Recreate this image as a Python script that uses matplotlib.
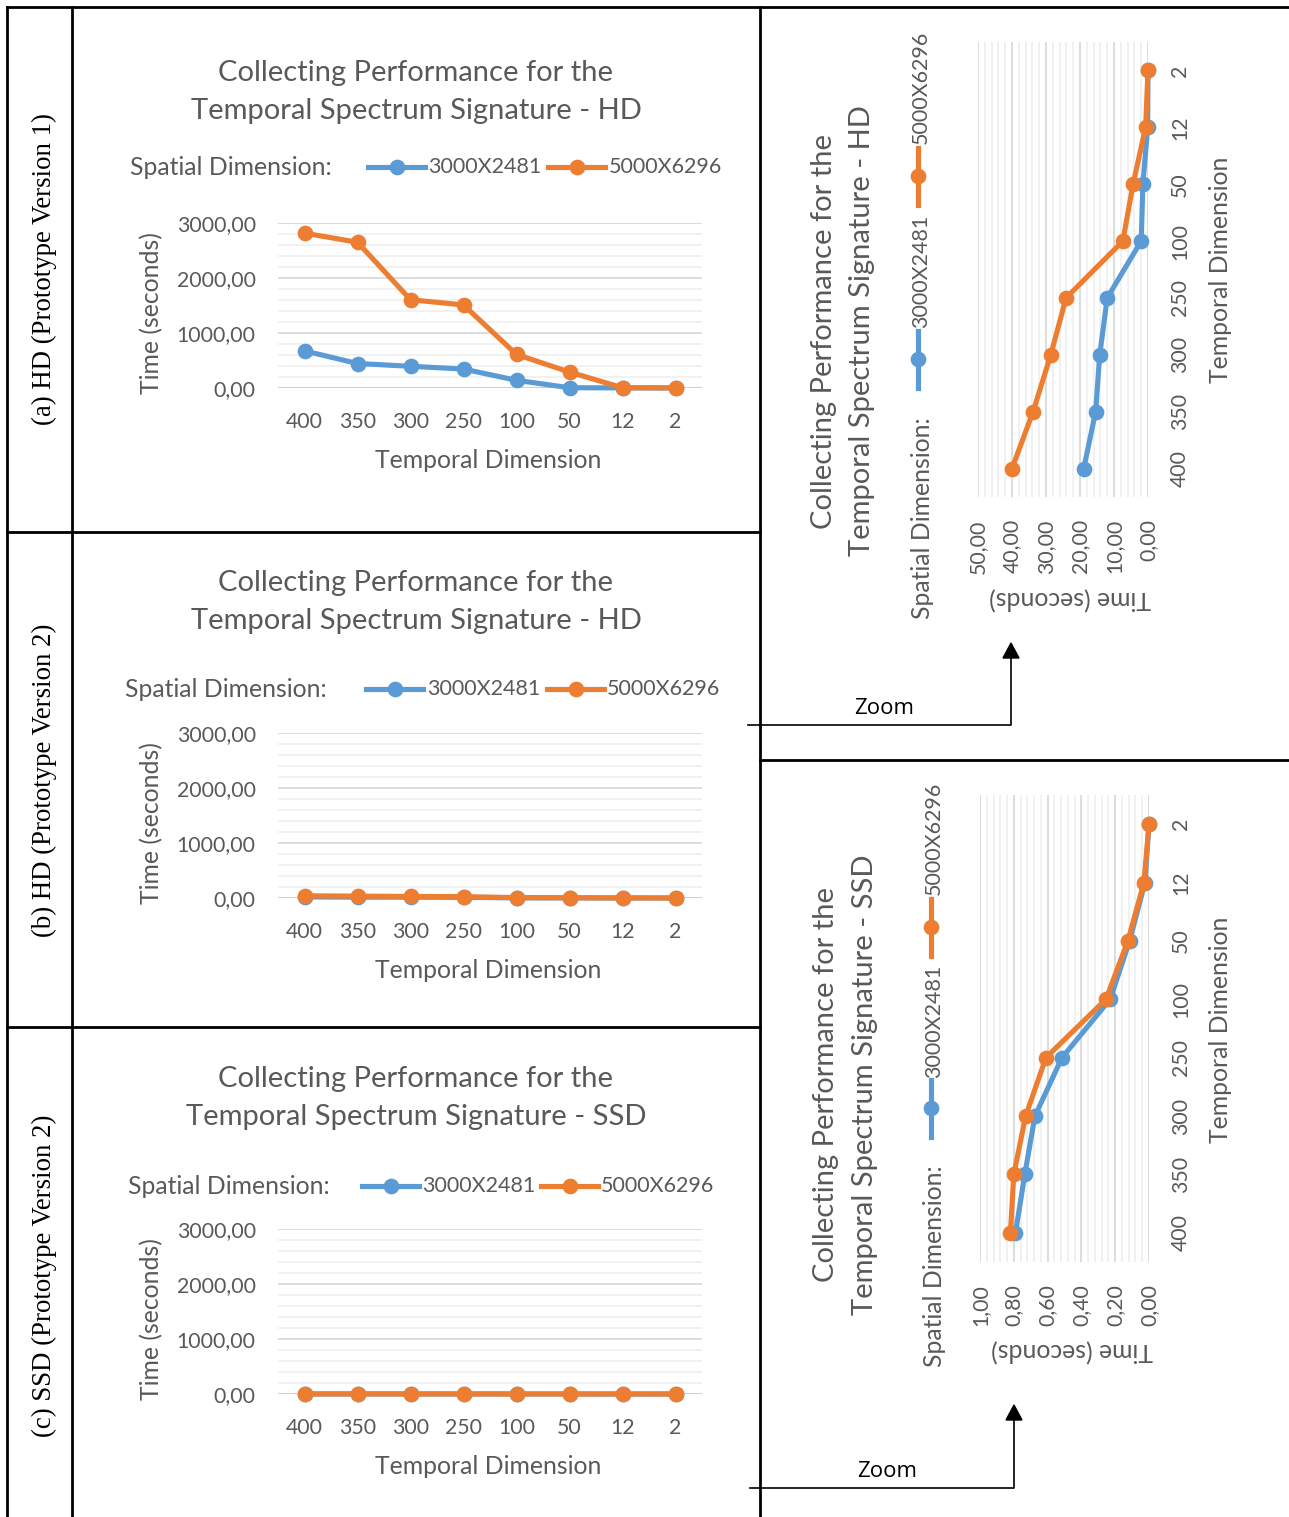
import matplotlib
matplotlib.use("Agg")
import matplotlib.pyplot as plt
from matplotlib.lines import Line2D
from matplotlib.patches import Polygon
from matplotlib.ticker import MultipleLocator, FixedLocator

# ---------------------------------------------------------------- data
temporal = ["400", "350", "300", "250", "100", "50", "12", "2"]
series_names = ["3000X2481", "5000X6296"]

# (a) HD, prototype version 1 (seconds)
hd_v1_small = [675, 445, 395, 345, 140, 5, 2, 0]
hd_v1_large = [2815, 2650, 1605, 1510, 610, 290, 5, 2]

# (b) HD, prototype version 2 (seconds)
hd_v2_small = [18.9, 15.4, 14.2, 12.0, 2.0, 1.5, 0.1, 0.0]
hd_v2_large = [40.0, 33.8, 28.6, 24.1, 7.4, 4.4, 0.7, 0.0]

# (c) SSD, prototype version 2 (seconds)
ssd_v2_small = [0.79, 0.735, 0.675, 0.515, 0.23, 0.115, 0.024, 0.0]
ssd_v2_large = [0.82, 0.80, 0.73, 0.61, 0.255, 0.125, 0.03, 0.0]

row_labels = ["(a) HD (Prototype Version 1)",
              "(b) HD (Prototype Version 2)",
              "(c) SSD (Prototype Version 2)"]

# ---------------------------------------------------------------- style
W, H = 1289, 1517
BLUE = "#5B9BD5"
ORANGE = "#ED7D31"
GRAY = "#595959"
SANS = ["Lato", "DejaVu Sans"]
SERIF = ["Liberation Serif", "DejaVu Serif"]
LW = 3.7
MS = 10.3
FS_TITLE = 21
FS_LABEL = 17.8
FS_TICK = 15.3
FS_NAME = 15.5

plt.rcParams["font.family"] = SANS

fig = plt.figure(figsize=(W / 100, H / 100), dpi=100)
fig.patch.set_facecolor("white")

# overlay in pixel coordinates for the table frame and free text
ov = fig.add_axes([0, 0, 1, 1], zorder=0)
ov.set_xlim(0, W)
ov.set_ylim(H, 0)
ov.axis("off")


def frame(x0, y0, x1, y1, lw=2.0):
    ov.add_line(Line2D([x0, x1], [y0, y1], color="black", lw=lw,
                       solid_capstyle="projecting"))


frame(7, 7, W, 7)
frame(7, 7, 7, H)
frame(72, 7, 72, H)
frame(760, 7, 760, H)
frame(7, 532, 760, 532)
frame(7, 1027, 760, 1027)
frame(760, 760, W, 760)


def zoom_arrow(x0, y, x1, ytip):
    ov.add_line(Line2D([x0, x1, x1], [y, y, ytip + 14], color="black", lw=1.2))
    ov.add_patch(Polygon([[x1 - 8, ytip + 15], [x1 + 8, ytip + 15], [x1, ytip]],
                         closed=True, color="black"))
    ov.text((x0 + x1) / 2 + 5, y - 6, "Zoom", fontsize=16, color="black",
            ha="center", va="bottom", family=["Open Sans", "DejaVu Sans"])


zoom_arrow(748, 725, 1011, 643)
zoom_arrow(750, 1488, 1014, 1405)

# row labels
for lab, yc in zip(row_labels, [269, 780, 1276]):
    ov.text(44, yc, lab, rotation=90, ha="center", va="center",
            fontsize=19.3, family=SERIF, color="black")


def px_axes(left, top, right, bottom):
    return fig.add_axes([left / W, 1 - bottom / H, (right - left) / W,
                         (bottom - top) / H], zorder=1)


def style_grid(ax, axis):
    ax.grid(True, which="major", axis=axis, color="#d9d9d9", lw=1.3)
    ax.grid(True, which="minor", axis=axis, color="#eeeeee", lw=1.1)
    ax.set_axisbelow(True)
    ax.patch.set_alpha(0)
    for s in ax.spines.values():
        s.set_visible(False)


def fmt(v, nd=2):
    return f"{v:.{nd}f}".replace(".", ",")


def left_chart(top, bottom, small, large, title2, ty, leg):
    ax = px_axes(278, top, 702, bottom)
    x = list(range(len(temporal)))
    ax.plot(x, small, color=BLUE, lw=LW, marker="o", ms=MS, zorder=3,
            clip_on=False)
    ax.plot(x, large, color=ORANGE, lw=LW, marker="o", ms=MS, zorder=4,
            clip_on=False)
    ax.set_xlim(-0.5, len(temporal) - 0.5)
    ax.set_ylim(0, 3000)
    ax.yaxis.set_minor_locator(MultipleLocator(200))
    ax.yaxis.set_major_locator(FixedLocator([0, 1000, 2000, 3000]))
    ax.set_yticklabels([fmt(v) for v in [0, 1000, 2000, 3000]])
    ax.set_xticks(x)
    ax.set_xticklabels(temporal)
    ax.tick_params(axis="both", which="both", length=0, labelsize=FS_TICK,
                   labelcolor=GRAY)
    ax.tick_params(axis="x", pad=17)
    ax.tick_params(axis="y", pad=16)
    style_grid(ax, "y")
    ax.axhline(0, color="#d0d0d0", lw=1.5, zorder=1)

    ov.text(416, ty, "Collecting Performance for the", ha="center",
            va="center", fontsize=FS_TITLE, color=GRAY)
    ov.text(416, ty + 38, title2, ha="center", va="center",
            fontsize=FS_TITLE, color=GRAY)
    ov.text(152, (top + bottom) / 2 + 8, "Time (seconds)", rotation=90,
            ha="center", va="center", fontsize=FS_LABEL, color=GRAY)
    ov.text(488, bottom + 72, "Temporal Dimension", ha="center", va="center",
            fontsize=FS_LABEL, color=GRAY)

    ly, lx, b0, t0, o0, t1 = leg
    ov.text(lx, ly, "Spatial Dimension:", ha="left", va="center",
            fontsize=FS_LABEL, color=GRAY)
    for (xa, xt), col, name in zip([(b0, t0), (o0, t1)], [BLUE, ORANGE],
                                   series_names):
        ov.add_line(Line2D([xa, xa + 57], [ly, ly], color=col, lw=LW))
        ov.add_line(Line2D([xa + 28.5], [ly], color=col, marker="o", ms=MS))
        ov.text(xt, ly, name, ha="left", va="center", fontsize=FS_NAME,
                color=GRAY)


left_chart(223, 388, hd_v1_small, hd_v1_large,
           "Temporal Spectrum Signature - HD", 73,
           (167, 130, 368, 428, 548, 609))
left_chart(733, 898, hd_v2_small, hd_v2_large,
           "Temporal Spectrum Signature - HD", 583,
           (689, 125, 366, 427, 547, 607))
left_chart(1229, 1394, ssd_v2_small, ssd_v2_large,
           "Temporal Spectrum Signature - SSD", 1079,
           (1186, 128, 362, 422, 541, 601))


def right_chart(left, top, right, bottom, small, large, vmax, major, minor,
                title2, tx, tyc, legx, spy, handles, time_pos, tdim_y):
    ax = px_axes(left, top, right, bottom)
    y = list(range(len(temporal)))
    ax.plot(small, y, color=BLUE, lw=LW, marker="o", ms=MS, zorder=3,
            clip_on=False)
    ax.plot(large, y, color=ORANGE, lw=LW, marker="o", ms=MS, zorder=4,
            clip_on=False)
    ax.set_xlim(vmax, 0)
    ax.set_ylim(-0.5, len(temporal) - 0.5)
    ticks = [i * major for i in range(int(round(vmax / major)) + 1)]
    ax.xaxis.set_major_locator(FixedLocator(ticks))
    ax.xaxis.set_minor_locator(MultipleLocator(minor))
    ax.set_xticklabels([fmt(v) for v in ticks], rotation=90, va="top",
                       ha="center")
    ax.set_yticks(y)
    ax.set_yticklabels(temporal, rotation=90, va="center", ha="left")
    ax.yaxis.tick_right()
    ax.tick_params(axis="both", which="both", length=0, labelsize=FS_TICK,
                   labelcolor=GRAY)
    ax.tick_params(axis="x", pad=16)
    ax.tick_params(axis="y", pad=16)
    style_grid(ax, "x")

    ov.text(tx[0], tyc, "Collecting Performance for the", rotation=90,
            ha="center", va="center", fontsize=FS_TITLE, color=GRAY)
    ov.text(tx[1], tyc, title2, rotation=90, ha="center", va="center",
            fontsize=FS_TITLE, color=GRAY)
    ov.text(legx + 4, spy, "Spatial Dimension:", rotation=90, ha="center",
            va="center", fontsize=FS_LABEL, color=GRAY)
    for (hy, ty), col, name in zip(handles, [BLUE, ORANGE], series_names):
        ov.add_line(Line2D([legx, legx], [hy - 28.5, hy + 28.5], color=col,
                           lw=LW))
        ov.add_line(Line2D([legx], [hy], color=col, marker="o", ms=MS))
        ov.text(legx + 3, ty, name, rotation=90, ha="center", va="center",
                fontsize=FS_NAME, color=GRAY)
    ov.text(time_pos[0], time_pos[1], "Time (seconds)", rotation=180,
            ha="center", va="center", fontsize=FS_LABEL, color=GRAY)
    ov.text(1220, tdim_y, "Temporal Dimension", rotation=90, ha="center",
            va="center", fontsize=FS_LABEL, color=GRAY)


right_chart(978, 42, 1148, 497, hd_v2_small, hd_v2_large, 50, 10, 2,
            "Temporal Spectrum Signature - HD", (824, 862), 331,
            918, 518, [(359, 271), (176, 87)], (1070, 598), 270)
right_chart(980, 795, 1149, 1262, ssd_v2_small, ssd_v2_large, 1.0, 0.2, 0.04,
            "Temporal Spectrum Signature - SSD", (826, 865), 1085,
            931, 1266, [(1108, 1021), (927, 838)], (1072, 1350), 1030)

fig.savefig("out.png", dpi=100, facecolor="white")
